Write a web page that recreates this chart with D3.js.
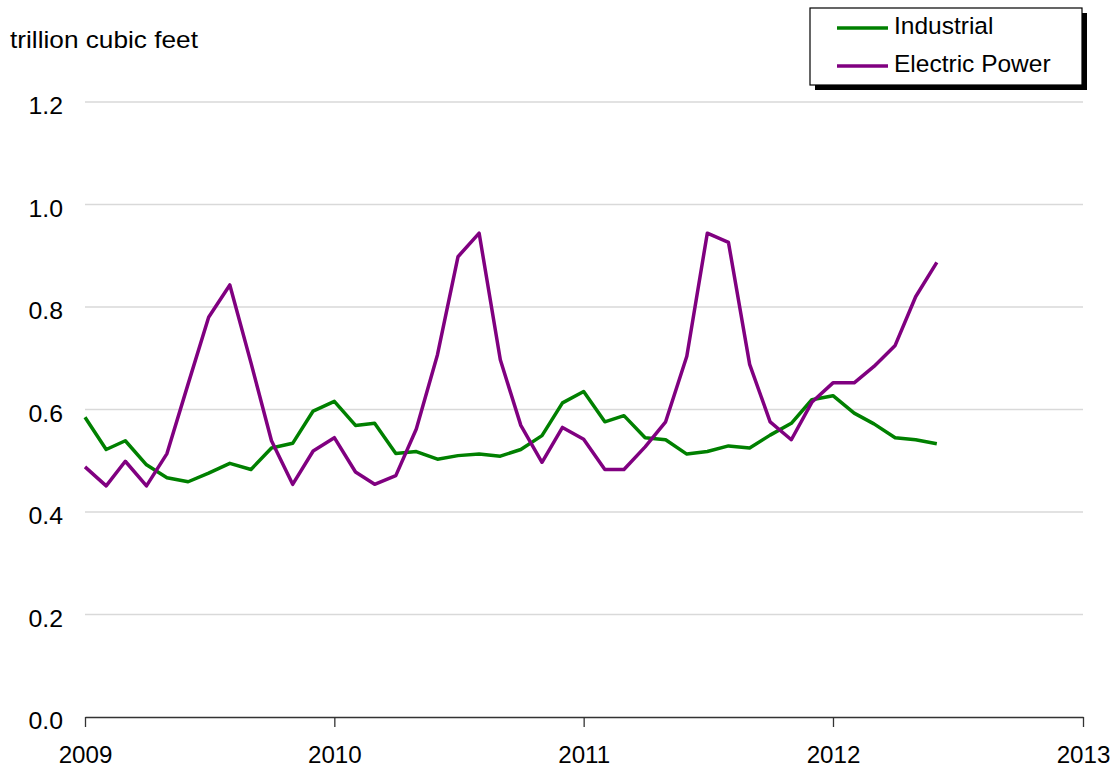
<!DOCTYPE html>
<html>
<head>
<meta charset="utf-8">
<script src="https://cdn.jsdelivr.net/npm/d3@7"></script>
<style>
body { margin: 0; background: #fff; }
svg { font-family: "Liberation Sans", Arial, sans-serif; }
</style>
</head>
<body>
<svg width="1116" height="770"></svg>
<script>
// monthly, Jan 2009 - Jun 2012
let startYear = 2009, startMonth = 0;
let industrial = [0.585, 0.522, 0.539, 0.492, 0.467, 0.459, 0.476, 0.495, 0.483, 0.525, 0.534, 0.597,
	0.616, 0.569, 0.573, 0.514, 0.518, 0.503, 0.510, 0.513, 0.509, 0.522, 0.549, 0.613,
	0.635, 0.576, 0.588, 0.545, 0.541, 0.513, 0.518, 0.529, 0.525, 0.550, 0.573, 0.619,
	0.627, 0.593, 0.572, 0.545, 0.541, 0.533];
let electric = [0.488, 0.451, 0.499, 0.451, 0.514, 0.650, 0.780, 0.843, 0.691, 0.539, 0.454, 0.519,
	0.545, 0.478, 0.454, 0.471, 0.562, 0.707, 0.898, 0.944, 0.697, 0.569, 0.497, 0.565,
	0.542, 0.483, 0.483, 0.527, 0.576, 0.704, 0.944, 0.926, 0.688, 0.576, 0.541, 0.614,
	0.652, 0.652, 0.684, 0.725, 0.820, 0.887];
let yTicks = [0, 0.2, 0.4, 0.6, 0.8, 1.0, 1.2];
let xTicks = [2009, 2010, 2011, 2012, 2013];
let seriesNames = ['Industrial', 'Electric Power'];
let colors = ['#008000', '#800080'];

var svg = d3.select('svg');
var plotLeft = 85, plotRight = 1083, plotTop = 102, plotBottom = 717;

var x = d3.scaleTime()
	.domain([new Date(2009, 0, 1), new Date(2013, 0, 1)])
	.range([plotLeft, plotRight]);
var y = d3.scaleLinear().domain([0, 1.2]).range([plotBottom, plotTop]);

function dateOf(i) { return new Date(startYear, startMonth + i, 1); }

// gridlines
svg.append('g')
	.selectAll('line')
	.data(yTicks.filter(d => d > 0))
	.join('line')
	.attr('x1', plotLeft).attr('x2', plotRight)
	.attr('y1', d => y(d)).attr('y2', d => y(d))
	.attr('stroke', '#d9d9d9').attr('stroke-width', 1.3);

// y axis labels (reference text is a bit wide, so stretch it)
svg.append('g')
	.selectAll('text')
	.data(yTicks)
	.join('text')
	.attr('transform', d => 'translate(63,' + (y(d) + 12) + ') scale(1.08,1)')
	.attr('text-anchor', 'end')
	.attr('font-size', 23)
	.attr('fill', '#000')
	.text(d => d.toFixed(1));

// x axis
var xAxis = d3.axisBottom(x)
	.tickValues(xTicks.map(d => new Date(d, 0, 1)))
	.tickFormat(d3.timeFormat('%Y'))
	.tickSize(10)
	.tickSizeOuter(0);
var gx = svg.append('g').attr('transform', 'translate(0,' + plotBottom + ')').call(xAxis);
gx.select('.domain').attr('stroke', '#333').attr('stroke-width', 1.5);
gx.selectAll('.tick line').attr('stroke', '#333').attr('stroke-width', 1.3);
gx.selectAll('.tick text')
	.attr('font-size', 23)
	.attr('font-family', '"Liberation Sans", Arial, sans-serif')
	.attr('fill', '#000')
	.attr('y', 46)
	.attr('dy', null)
	.attr('transform', 'scale(1.05,1)');

// unit label
svg.append('text')
	.attr('transform', 'translate(10,48) scale(1.14,1)')
	.attr('font-size', 23)
	.text('trillion cubic feet');

// lines
var line = d3.line()
	.x((d, i) => x(dateOf(i)))
	.y(d => y(d));
[industrial, electric].forEach(function(s, k) {
	svg.append('path')
		.datum(s)
		.attr('fill', 'none')
		.attr('stroke', colors[k])
		.attr('stroke-width', 3.5)
		.attr('stroke-linejoin', 'round')
		.attr('d', line);
});

// legend
var lg = svg.append('g');
lg.append('rect')
	.attr('x', 815).attr('y', 13).attr('width', 272).attr('height', 77)
	.attr('fill', '#000');
lg.append('rect')
	.attr('x', 810).attr('y', 8).attr('width', 272).attr('height', 77)
	.attr('fill', '#fff').attr('stroke', '#000').attr('stroke-width', 1.2);
seriesNames.forEach(function(n, k) {
	var ly = 28 + k * 38;
	lg.append('line')
		.attr('x1', 837).attr('x2', 888)
		.attr('y1', ly).attr('y2', ly)
		.attr('stroke', colors[k]).attr('stroke-width', 3.5);
	lg.append('text')
		.attr('x', 894).attr('y', ly + 6)
		.attr('font-size', 24.5)
		.text(n);
});
</script>
</body>
</html>
